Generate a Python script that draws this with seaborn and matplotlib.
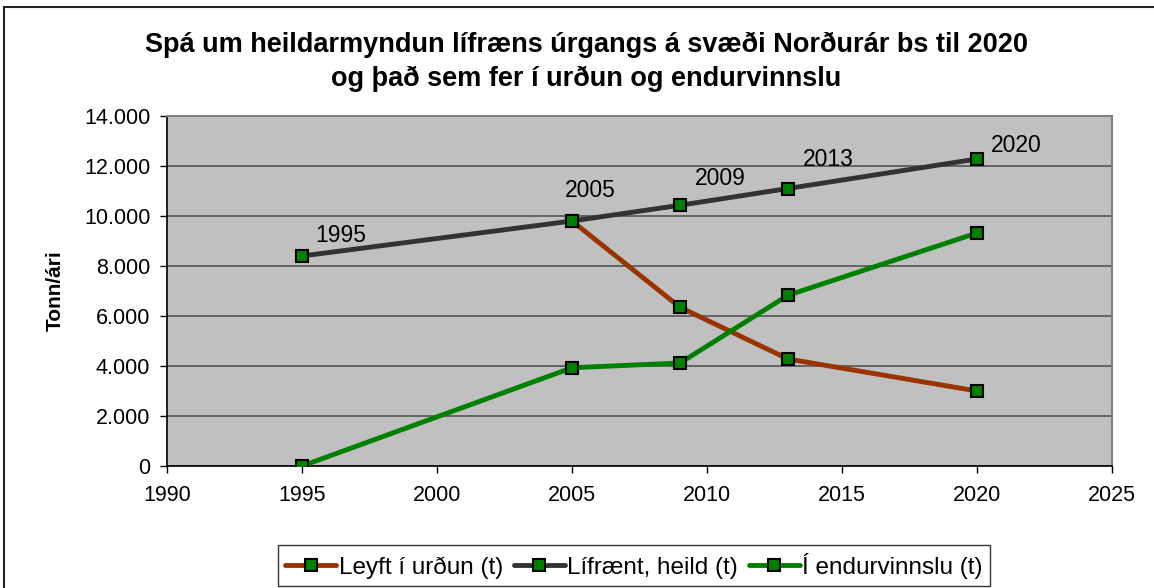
import pandas as pd
import matplotlib
matplotlib.use('Agg')
import matplotlib.pyplot as plt
import seaborn as sns
from matplotlib.ticker import FuncFormatter, MultipleLocator
from matplotlib.patches import Rectangle

# Gögn lesin af myndinni
ar = [1995, 2005, 2009, 2013, 2020]
lifraent_heild = [8400, 9800, 10430, 11100, 12280]
leyft_urdun_ar = [2005, 2009, 2013, 2020]
leyft_urdun = [9800, 6350, 4280, 3000]
endurvinnsla = [0, 3930, 4120, 6830, 9320]

flokkar = ['Leyft í urðun (t)', 'Lífrænt, heild (t)', 'Í endurvinnslu (t)']
litir = ['#993300', '#333333', '#008000']

df = pd.concat([
    pd.DataFrame({'Ár': leyft_urdun_ar, 'Tonn': leyft_urdun, 'Flokkur': flokkar[0]}),
    pd.DataFrame({'Ár': ar, 'Tonn': lifraent_heild, 'Flokkur': flokkar[1]}),
    pd.DataFrame({'Ár': ar, 'Tonn': endurvinnsla, 'Flokkur': flokkar[2]}),
])

sns.set_style('white')
plt.rcParams['font.family'] = ['Liberation Sans', 'DejaVu Sans']
plt.rcParams['text.color'] = 'black'
plt.rcParams['axes.labelcolor'] = 'black'
plt.rcParams['xtick.color'] = 'black'
plt.rcParams['ytick.color'] = 'black'

fig = plt.figure(figsize=(11.54, 5.88), dpi=100)
ax = fig.add_axes([167 / 1154, 1 - 466 / 588, 945 / 1154, 350 / 588])
ax.set_facecolor('#C0C0C0')

sns.lineplot(data=df, x='Ár', y='Tonn', hue='Flokkur', hue_order=flokkar,
             palette=litir, marker='s', markersize=8.5, markerfacecolor='#008000',
             markeredgecolor='black', markeredgewidth=1.5, linewidth=3.5,
             legend=False, ax=ax, zorder=3)

# ártöl við heildarlínuna
offsets = [(28, 15), (13, 22), (29, 19), (29, 21), (28, 10)]
for x, y, (dx, dy) in zip(ar, lifraent_heild, offsets):
    ax.annotate(str(x), (x, y), xytext=(dx, dy), textcoords='offset points',
                ha='center', va='center', fontsize=16.5, color='black')

ax.set_xlim(1990, 2025)
ax.set_ylim(0, 14000)
ax.xaxis.set_major_locator(MultipleLocator(5))
ax.yaxis.set_major_locator(MultipleLocator(2000))
ax.yaxis.set_major_formatter(FuncFormatter(lambda v, p: f'{int(v):,}'.replace(',', '.')))
ax.grid(axis='y', color='#555555', linewidth=1.2)
ax.set_axisbelow(True)
ax.tick_params(axis='both', labelsize=15.5, direction='out', length=5, width=1,
               color='black', left=True, bottom=True, pad=7)
ax.tick_params(axis='x', pad=9)

for s in ['left', 'bottom']:
    ax.spines[s].set_color('black')
    ax.spines[s].set_linewidth(1.2)
for s in ['top', 'right']:
    ax.spines[s].set_color('#808080')
    ax.spines[s].set_linewidth(1.5)

ax.set_xlabel('')
ax.set_ylabel('Tonn/ári', fontsize=15, fontweight='bold', labelpad=14)

fig.text(0.508, 1 - 62 / 588,
         'Spá um heildarmyndun lífræns úrgangs á svæði Norðurár bs til 2020\n'
         'og það sem fer í urðun og endurvinnslu',
         ha='center', va='center', fontsize=19.5, fontweight='bold', linespacing=1.4)

leg = fig.legend(handles=ax.lines[:3], labels=flokkar, ncol=3,
                 loc='lower center', bbox_to_anchor=(634 / 1154, 2 / 588),
                 fontsize=17.5, frameon=True, fancybox=False, edgecolor='black',
                 handlelength=2.1, handletextpad=0.1, columnspacing=0.45,
                 borderpad=0.3, borderaxespad=0)
leg.get_frame().set_linewidth(1.0)

# rammi kringum myndina
fig.patches.append(Rectangle((4 / 1154, -0.1), 1.2, 1 - 7 / 588 + 0.1,
                             transform=fig.transFigure, fill=False,
                             edgecolor='#222222', linewidth=1.5))

fig.savefig('out.png', dpi=100)
